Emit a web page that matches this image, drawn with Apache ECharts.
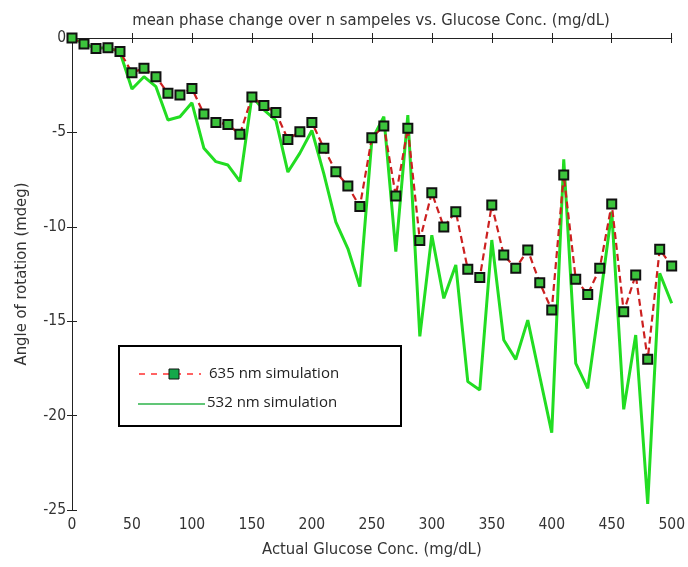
<!DOCTYPE html>
<html>
<head>
<meta charset="utf-8">
<script src="https://cdn.jsdelivr.net/npm/echarts@6/dist/echarts.min.js"></script>
<style>
  html, body { margin: 0; padding: 0; background: #fff; }
  #chart { width: 688px; height: 567px; }
</style>
</head>
<body>
<div id="chart"></div>
<script>
// Glucose concentration (mg/dL)
const glucose = [0, 10, 20, 30, 40, 50, 60, 70, 80, 90, 100, 110, 120, 130, 140, 150, 160, 170, 180, 190,
  200, 210, 220, 230, 240, 250, 260, 270, 280, 290, 300, 310, 320, 330, 340, 350, 360, 370, 380, 390,
  400, 410, 420, 430, 440, 450, 460, 470, 480, 490, 500];

// Mean rotation angle (mdeg), 635 nm simulation
const sim635 = [0, -0.32, -0.55, -0.51, -0.72, -1.84, -1.6, -2.05, -2.93, -3.02, -2.67, -4.03, -4.47, -4.58, -5.1,
  -3.12, -3.58, -3.95, -5.37, -4.96, -4.47, -5.84, -7.08, -7.84, -8.93, -5.28, -4.66, -8.37, -4.78, -10.72,
  -8.19, -10.01, -9.2, -12.25, -12.69, -8.85, -11.49, -12.2, -11.23, -12.96, -14.41, -7.26, -12.78, -13.58,
  -12.2, -8.79, -14.5, -12.55, -17.02, -11.19, -12.08];

// Mean rotation angle (mdeg), 532 nm simulation
const sim532 = [0, -0.3, -0.55, -0.5, -0.75, -2.7, -2.05, -2.58, -4.34, -4.17, -3.43, -5.84, -6.55, -6.73, -7.6,
  -3.1, -3.81, -4.36, -7.1, -6.1, -4.9, -7.2, -9.75, -11.15, -13.17, -5.4, -4.17, -11.32, -4.08, -15.8,
  -10.45, -13.79, -12.02, -18.2, -18.64, -10.7, -16.0, -17.02, -14.94, -17.93, -20.9, -6.43, -17.23, -18.56,
  -14.0, -9.2, -19.67, -15.73, -24.68, -12.46, -14.05];

const xTicks = { min: 0, max: 500, step: 50 };
const yTicks = { min: -25, max: 0, step: 5 };

const titleText = 'mean phase change over n sampeles vs. Glucose Conc. (mg/dL)';
const xName = 'Actual Glucose Conc. (mg/dL)';
const yName = 'Angle of rotation (mdeg)';
const legendNames = ['635 nm simulation', '532 nm simulation'];

const axisFont = "'Liberation Sans Narrow', 'DejaVu Sans Condensed', 'Liberation Sans', Arial, sans-serif";
const legendFont = "'Open Sans', 'Noto Sans', sans-serif";
const textColor = '#333';

const chart = echarts.init(document.getElementById('chart'), null, { renderer: 'canvas' });

const axisLine = { show: true, lineStyle: { color: '#222', width: 1 } };
const tickIn = { show: true, inside: true, length: 5, lineStyle: { color: '#222', width: 1 } };

const option = {
  backgroundColor: '#fff',
  animation: false,
  title: {
    text: titleText,
    left: 366, top: 7, textAlign: 'center',
    textStyle: { fontFamily: axisFont, fontSize: 16.5, fontWeight: 'normal', color: textColor }
  },
  grid: { left: 72, right: 16, top: 38, bottom: 57, containLabel: false },
  xAxis: [
    {
      type: 'value', min: xTicks.min, max: xTicks.max, interval: xTicks.step,
      position: 'bottom',
      name: xName, nameLocation: 'middle', nameGap: 31,
      nameTextStyle: { fontFamily: axisFont, fontSize: 16.5, color: textColor },
      axisLine: axisLine, axisTick: tickIn,
      axisLabel: { fontFamily: axisFont, fontSize: 15.5, color: textColor, margin: 7 },
      splitLine: { show: false }
    },
    {
      type: 'value', min: xTicks.min, max: xTicks.max, interval: xTicks.step,
      position: 'top',
      axisLine: axisLine, axisTick: tickIn, axisLabel: { show: false }, splitLine: { show: false }
    }
  ],
  yAxis: [
    {
      type: 'value', min: yTicks.min, max: yTicks.max, interval: yTicks.step,
      position: 'left',
      name: yName, nameLocation: 'middle', nameGap: 42, nameRotate: 90,
      nameTextStyle: { fontFamily: axisFont, fontSize: 16.5, color: textColor },
      axisLine: axisLine, axisTick: tickIn,
      axisLabel: { fontFamily: axisFont, fontSize: 15.5, color: textColor, margin: 6 },
      splitLine: { show: false }
    },
    {
      type: 'value', min: yTicks.min, max: yTicks.max, interval: yTicks.step,
      position: 'right',
      axisLine: axisLine, axisTick: tickIn, axisLabel: { show: false }, splitLine: { show: false }
    }
  ],
  series: [
    {
      name: legendNames[1],
      type: 'line',
      data: glucose.map((g, i) => [g, sim532[i]]),
      showSymbol: false, symbol: 'none',
      lineStyle: { color: '#22dd22', width: 3 },
      z: 2
    },
    {
      name: legendNames[0],
      type: 'line',
      data: glucose.map((g, i) => [g, sim635[i]]),
      symbol: 'rect', symbolSize: 9, showSymbol: true,
      lineStyle: { color: '#cc2020', width: 2.2, type: [7, 4] },
      itemStyle: { color: '#3cc43c', borderColor: '#111', borderWidth: 2 },
      z: 3
    }
  ],
  graphic: [
    {
      type: 'group', left: 118, top: 345,
      children: [
        { type: 'rect', shape: { x: 0, y: 0, width: 282, height: 80 },
          style: { fill: '#fff', stroke: '#000', lineWidth: 2 } },
        { type: 'line', shape: { x1: 20, y1: 28, x2: 82, y2: 28 },
          style: { stroke: '#ff3030', lineWidth: 1.5, lineDash: [6, 6] } },
        { type: 'rect', shape: { x: 50, y: 23, width: 10, height: 10 },
          style: { fill: '#14a84a', stroke: '#111', lineWidth: 1 } },
        { type: 'text', x: 90, y: 28,
          style: { text: legendNames[0], fill: '#222', font: '15px ' + legendFont, textVerticalAlign: 'middle' } },
        { type: 'line', shape: { x1: 19, y1: 58, x2: 86, y2: 58 },
          style: { stroke: '#2db34a', lineWidth: 1.5 } },
        { type: 'text', x: 88, y: 57,
          style: { text: legendNames[1], fill: '#222', font: '15px ' + legendFont, textVerticalAlign: 'middle' } }
      ]
    }
  ]
};

chart.setOption(option);
</script>
</body>
</html>
